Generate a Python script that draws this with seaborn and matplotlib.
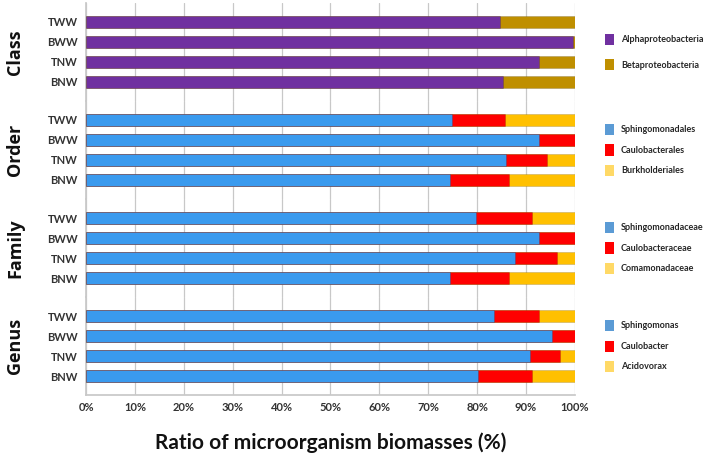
import pandas as pd
import matplotlib.pyplot as plt
import seaborn as sns
from matplotlib.patches import Patch

# ------------------------------------------------------------
# data (% of biomass)
# ------------------------------------------------------------
samples = ["TWW", "BWW", "TNW", "BNW"]

class_names = ["Alphaproteobacteria", "Betaproteobacteria"]
class_alpha = [84.6, 99.7, 92.6, 85.3]
class_beta = [15.4, 0.3, 7.4, 14.7]

order_names = ["Sphingomonadales", "Caulobacterales", "Burkholderiales"]
order_sphingo = [74.8, 92.6, 85.9, 74.4]
order_caulo = [11.0, 7.4, 8.3, 12.1]
order_burk = [14.2, 0.0, 5.8, 13.5]

family_names = ["Sphingomonadaceae", "Caulobacteraceae", "Comamonadaceae"]
family_sphingo = [79.7, 92.6, 87.8, 74.4]
family_caulo = [11.5, 7.4, 8.5, 12.1]
family_coma = [8.8, 0.0, 3.7, 13.5]

genus_names = ["Sphingomonas", "Caulobacter", "Acidovorax"]
genus_sphingo = [83.4, 95.3, 90.8, 80.1]
genus_caulo = [9.3, 4.7, 6.2, 11.1]
genus_acido = [7.3, 0.0, 3.0, 8.8]

panels = [
    ("Class", class_names, [class_alpha, class_beta], ["#7030A0", "#BF8F00"]),
    ("Order", order_names, [order_sphingo, order_caulo, order_burk], ["#3A9AEE", "#FF0000", "#FFC000"]),
    ("Family", family_names, [family_sphingo, family_caulo, family_coma], ["#3A9AEE", "#FF0000", "#FFC000"]),
    ("Genus", genus_names, [genus_sphingo, genus_caulo, genus_acido], ["#3A9AEE", "#FF0000", "#FFC000"]),
]
legend_colors = {"#3A9AEE": "#5B9BD5", "#FF0000": "#FF0000", "#FFC000": "#FFD966",
                 "#7030A0": "#7030A0", "#BF8F00": "#BF8F00"}

# ------------------------------------------------------------
# figure
# ------------------------------------------------------------
sns.set_theme(style="white")
plt.rcParams["font.family"] = ["Lato", "DejaVu Sans"]

fig, axes = plt.subplots(4, 1, figsize=(7.08, 4.59), dpi=100, sharex=True)
fig.subplots_adjust(left=0.1215, right=0.812, top=0.9935, bottom=0.1394, hspace=0)

for ax, (title, names, series, colors) in zip(axes, panels):
    df = pd.DataFrame({"sample": samples})
    for n, s in zip(names, series):
        df[n] = s
    # stacked bars: draw cumulative totals from the outermost inwards
    cum = df[names].cumsum(axis=1)
    for n, c in reversed(list(zip(names, colors))):
        sns.barplot(x=cum[n], y=df["sample"], order=samples, color=c,
                    saturation=1, width=0.62, orient="h", ax=ax, zorder=3,
                    edgecolor="#00000030", linewidth=0.5)
    ax.set_xlim(0, 100)
    ax.set_ylim(3.95, -0.95)
    ax.set_xlabel("")
    ax.set_ylabel("")
    ax.set_xticks(range(0, 101, 10))
    ax.xaxis.grid(True, color="#C8C8C8", linewidth=0.9, zorder=0)
    ax.set_axisbelow(True)
    for sp in ["top", "right"]:
        ax.spines[sp].set_visible(False)
    ax.spines["left"].set_color("#C8C8C8")
    ax.spines["bottom"].set_visible(False)
    ax.tick_params(axis="y", length=3, color="#C8C8C8", labelsize=8, pad=3)
    for lab in ax.get_yticklabels():
        lab.set_fontweight("bold")
        lab.set_color("#333333")

    ax.text(-0.145, 0.5, title, transform=ax.transAxes, rotation=90,
            ha="center", va="center", fontsize=13, fontweight="bold",
            color="#111111", family=["Open Sans", "DejaVu Sans"])

    handles = [Patch(facecolor=legend_colors[c], edgecolor="none") for c in colors]
    spacing = 1.6 if len(names) == 2 else 1.05
    ax.legend(handles, names, loc="center left", bbox_to_anchor=(1.045, 0.5),
              frameon=False, handlelength=0.95, handleheight=1.5,
              labelspacing=spacing, handletextpad=0.8,
              prop={"weight": "bold", "size": 6.5})

axes[-1].spines["bottom"].set_visible(True)
axes[-1].spines["bottom"].set_color("#C8C8C8")
axes[-1].tick_params(axis="x", length=0, labelsize=8, pad=5)
axes[-1].set_xticklabels([f"{v}%" for v in range(0, 101, 10)], fontweight="bold", color="#333333")
axes[-1].set_xlabel("Ratio of microorganism biomasses (%)", fontsize=15,
                    fontweight="bold", labelpad=14, color="#111111")

plt.savefig("out.png", dpi=100)
